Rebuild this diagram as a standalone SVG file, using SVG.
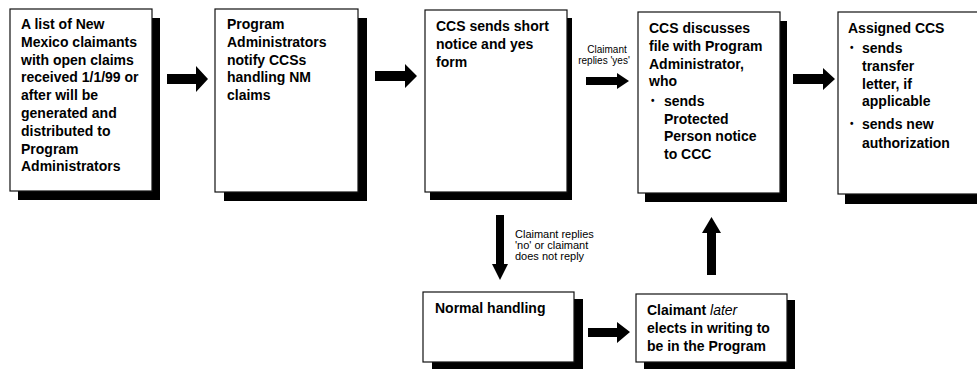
<svg xmlns="http://www.w3.org/2000/svg" width="977" height="369" viewBox="0 0 977 369">
<style>
.box{fill:#fff;stroke:#111;stroke-width:1.2}
.sh{fill:#000}
.t{font-family:"Liberation Sans",Arial,sans-serif;font-size:14px;font-weight:bold;fill:#000}
.b{font-family:"Liberation Sans",Arial,sans-serif;font-size:10px;font-weight:bold;fill:#000}
.s{font-family:"Liberation Sans",Arial,sans-serif;font-size:10px;fill:#000}
.arr{fill:#000}
</style>
<rect width="977" height="369" fill="#fff"/>
<g id="n1">
<rect class="sh" x="18" y="18" width="142" height="182"/>
<rect class="box" x="10" y="9" width="142" height="182"/>
<text class="t" x="21" y="29"><tspan x="21">A list of New</tspan><tspan x="21" dy="17.8">Mexico claimants</tspan><tspan x="21" dy="17.8">with open claims</tspan><tspan x="21" dy="17.8">received 1/1/99 or</tspan><tspan x="21" dy="17.8">after will be</tspan><tspan x="21" dy="17.8">generated and</tspan><tspan x="21" dy="17.8">distributed to</tspan><tspan x="21" dy="17.8">Program</tspan><tspan x="21" dy="17.8">Administrators</tspan></text>
</g>
<g id="n2">
<rect class="sh" x="224" y="18" width="143" height="183"/>
<rect class="box" x="215" y="9" width="143" height="183"/>
<text class="t" x="227" y="29"><tspan x="227">Program</tspan><tspan x="227" dy="17.8">Administrators</tspan><tspan x="227" dy="17.8">notify CCSs</tspan><tspan x="227" dy="17.8">handling NM</tspan><tspan x="227" dy="17.8">claims</tspan></text>
</g>
<g id="n3">
<rect class="sh" x="430" y="18" width="142" height="182"/>
<rect class="box" x="425" y="10" width="142" height="182"/>
<text class="t" x="436" y="31"><tspan x="436">CCS sends short</tspan><tspan x="436" dy="17.8">notice and yes</tspan><tspan x="436" dy="17.8">form</tspan></text>
</g>
<g id="n4">
<rect class="sh" x="645" y="21" width="142" height="181"/>
<rect class="box" x="638" y="12" width="142" height="181"/>
<text class="t" x="649" y="33"><tspan x="649">CCS discusses</tspan><tspan x="649" dy="17.8">file with Program</tspan><tspan x="649" dy="17.8">Administrator,</tspan><tspan x="649" dy="17.8">who</tspan></text>
<text class="b" x="651" y="104">•</text>
<text class="t" x="664" y="106"><tspan x="664">sends</tspan><tspan x="664" dy="17.6">Protected</tspan><tspan x="664" dy="17.6">Person notice</tspan><tspan x="664" dy="17.6">to CCC</tspan></text>
</g>
<g id="n5">
<rect class="sh" x="845" y="22" width="140" height="182"/>
<rect class="box" x="838" y="12" width="145" height="182"/>
<text class="t" x="848" y="33">Assigned CCS</text>
<text class="b" x="850" y="51">•</text>
<text class="t" x="862" y="53"><tspan x="862">sends</tspan><tspan x="862" dy="17.8">transfer</tspan><tspan x="862" dy="17.8">letter, if</tspan><tspan x="862" dy="17.8">applicable</tspan></text>
<text class="b" x="850" y="127">•</text>
<text class="t" x="862" y="129"><tspan x="862">sends new</tspan><tspan x="862" dy="18.5">authorization</tspan></text>
</g>
<g id="n6">
<rect class="sh" x="432" y="299" width="151" height="70"/>
<rect class="box" x="423" y="292" width="151" height="70"/>
<text class="t" x="435" y="313">Normal handling</text>
</g>
<g id="n7">
<rect class="sh" x="644" y="300" width="151" height="69"/>
<rect class="box" x="636" y="294" width="151" height="68"/>
<text class="t" x="647" y="315"><tspan x="647">Claimant <tspan font-style="italic" font-weight="normal">later</tspan></tspan><tspan x="647" dy="17.8">elects in writing to</tspan><tspan x="647" dy="17.8">be in the Program</tspan></text>
</g>
<g id="connectors">
<polygon class="arr" points="167,74 196,74 196,66 208,79 196,92 196,84 167,84"/>
<polygon class="arr" points="375,71 405,71 405,64 417,76 405,88 405,81 375,81"/>
<polygon class="arr" points="586,77 617,77 617,73 629,81 617,89 617,85 586,85"/>
<text class="s" x="607" y="53" text-anchor="middle">Claimant</text>
<text class="s" x="604" y="64" text-anchor="middle">replies 'yes'</text>
<polygon class="arr" points="793,74 823,74 823,68 835,79 823,90 823,84 793,84"/>
<polygon class="arr" points="496,215 504,215 504,264 508,264 500,280 492,264 496,264"/>
<text class="s" style="font-size:11px" x="515"><tspan x="515" y="238">Claimant replies</tspan><tspan x="515" y="249">'no' or claimant</tspan><tspan x="515" y="260">does not reply</tspan></text>
<polygon class="arr" points="588,328 617,328 617,322 630,332 617,343 617,337 588,337"/>
<polygon class="arr" points="707,275 716,275 716,233 721,233 711.5,217 702,233 707,233"/>
</g>
</svg>
